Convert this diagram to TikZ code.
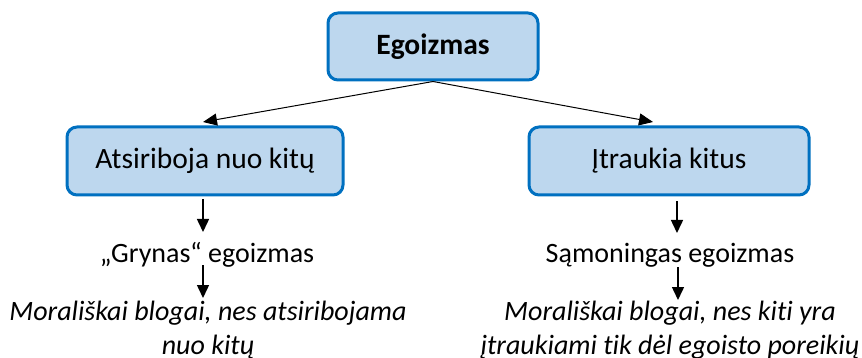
\documentclass[tikz,border=0pt]{standalone}
\usepackage{fontspec}
\setmainfont{Carlito}[Ligatures={NoCommon,NoRare,NoContextual}]
\usetikzlibrary{arrows.meta}
\definecolor{boxfill}{HTML}{BDD7EE}
\definecolor{boxline}{HTML}{0070C0}
\begin{document}
\begin{tikzpicture}[x=1pt,y=-1pt,
  box/.style={draw=boxline, fill=boxfill, line width=3pt, rounded corners=10pt, inner sep=0pt, font=\fontsize{29.5}{34}\selectfont},
  txt/.style={inner sep=0pt, anchor=base, font=\fontsize{28}{32}\selectfont},
  itx/.style={inner sep=0pt, anchor=base, align=center, font=\fontsize{28}{34}\selectfont\itshape},
  arr/.style={line width=1.5pt, -{Triangle[width=12pt,length=13pt]}}]
\useasboundingbox (0,0) rectangle (862,358);
\node[box, minimum width=210pt, minimum height=67pt, font=\fontsize{29.5}{34}\selectfont\bfseries] (top) at (433,46.5) {Egoizmas};
\node[box, minimum width=276pt, minimum height=68pt] (lbox) at (205,161) {Atsiriboja nuo kitų};
\node[box, minimum width=280pt, minimum height=68pt] (rbox) at (669,161) {Įtraukia kitus};
\node[txt] (lg) at (207,262) {„Grynas“ egoizmas};
\node[txt] (rg) at (670,262) {Sąmoningas egoizmas};
\node[itx] (lm) at (208,354) {Morališkai blogai, nes atsiribojama\\nuo kitų};
\node[itx] (rm) at (670,354) {Morališkai blogai, nes kiti yra\\įtraukiami tik dėl egoisto poreikių};
\coordinate (ltip) at (203,122);
\coordinate (rtip) at (653,122);
\draw[line width=1pt, -{Triangle[width=12pt,length=14pt]}] (top.south) -- (ltip);
\draw[line width=1pt, -{Triangle[width=12pt,length=14pt]}] (top.south) -- (rtip);
\draw[arr, shorten <=3pt] ([xshift=-2pt]lbox.south) -- ([xshift=-2pt,yshift=30pt]lbox.south |- lg.base);
\draw[arr, shorten <=5pt] ([xshift=8pt]rbox.south) -- ([xshift=8pt,yshift=29pt]rbox.south |- rg.base);
\draw[arr] ([xshift=-4pt,yshift=-3pt]lg.base) -- ([xshift=-4pt,yshift=56pt]lg.base |- lm.base);
\draw[arr] ([xshift=8pt,yshift=-5pt]rg.base) -- ([xshift=8pt,yshift=54pt]rg.base |- rm.base);
\end{tikzpicture}
\end{document}
